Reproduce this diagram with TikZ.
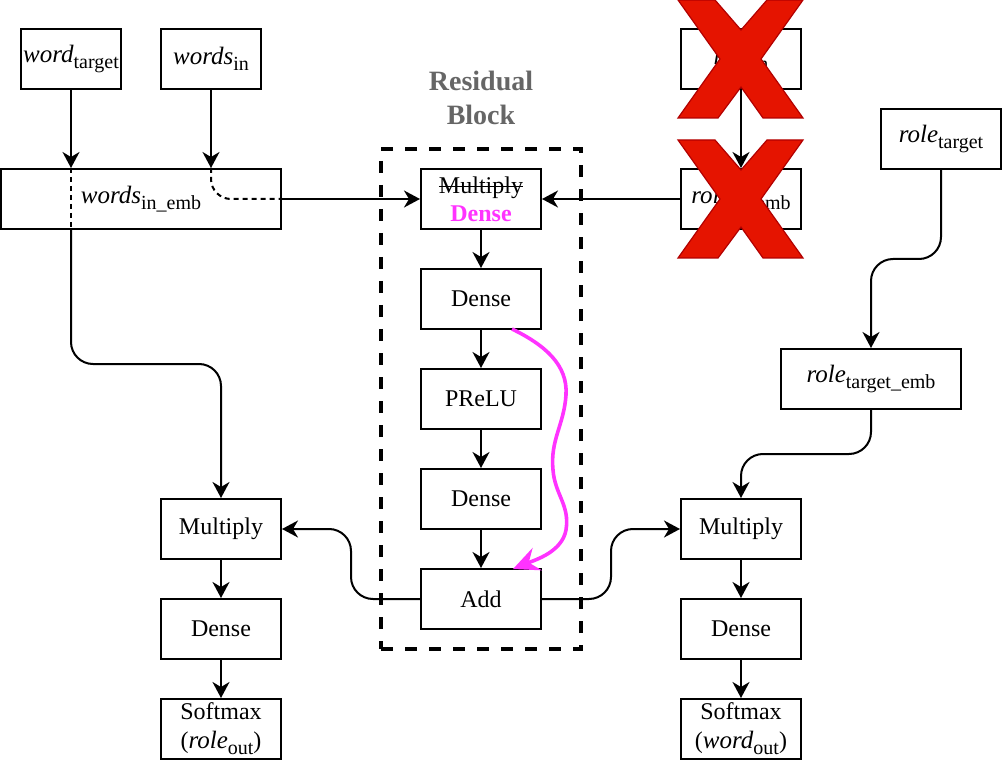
\documentclass[tikz,border=0pt]{standalone}
\usepackage{fontspec}
\setmainfont{Liberation Serif}
\usetikzlibrary{arrows.meta}
\newcommand{\lowtext}[1]{\raisebox{-6pt}{\fontsize{20}{20}\selectfont #1}}
\newcommand{\slanted}[1]{{\fontsize{25}{29}\selectfont\itshape #1}}
\newcommand{\crossout}[1]{\setbox0=\hbox{#1}\rlap{\rule[6pt]{\wd0}{1.6pt}}\box0}
\definecolor{crossred}{HTML}{E51400}
\definecolor{crossedge}{HTML}{B20000}
\definecolor{pinkline}{HTML}{FF33FF}
\definecolor{titlegray}{HTML}{666666}
\begin{document}
\begin{tikzpicture}[x=1pt, y=-1pt,
    box/.style={draw, fill=white, line width=2pt, minimum height=60pt, inner sep=0pt, align=center,
        font=\fontsize{24}{29}\selectfont},
    link/.style={line width=2pt, -{Stealth[length=16pt,width=17pt,inset=5pt]}},
    plainlink/.style={line width=2pt}]
    \useasboundingbox (0,0) rectangle (1002,762);

    % residual block frame
    \node[draw, line width=3.6pt, dash pattern=on 12pt off 12pt, minimum width=200pt, minimum height=500pt] (frame) at (481,399) {};
    \node[font=\fontsize{28}{34}\selectfont\bfseries, text=titlegray, align=center] (blocktitle) at (481,98) {Residual\\Block};

    % inputs
    \node[box, minimum width=100pt] (wordtarget) at (71,59) {\slanted{word}\lowtext{target}};
    \node[box, minimum width=100pt] (wordsin) at (211,59) {\slanted{words}\lowtext{in}};
    \node[box, minimum width=120pt] (rolein) at (741,59) {\slanted{role}\lowtext{in}};
    \node[box, minimum width=120pt] (roletarget) at (941,139) {\slanted{role}\lowtext{target}};

    % embeddings
    \node[box, minimum width=280pt] (wordsemb) at (141,199) {\slanted{words}\lowtext{in\_emb}};
    \node[box, minimum width=120pt] (roleemb) at (741,199) {\slanted{role}\lowtext{in\_emb}};
    \node[box, minimum width=180pt] (roletargetemb) at (871,379) {\slanted{role}\lowtext{target\_emb}};

    % residual block
    \node[box, minimum width=120pt] (blockmerge) at (481,199) {\crossout{Multiply}\\[-1pt]\textcolor{pinkline}{\textbf{Dense}}};
    \node[box, minimum width=120pt] (denseone) at (481,299) {Dense};
    \node[box, minimum width=120pt] (prelu) at (481,399) {PReLU};
    \node[box, minimum width=120pt] (densetwo) at (481,499) {Dense};
    \node[box, minimum width=120pt] (addnode) at (481,599) {Add};

    % left output
    \node[box, minimum width=120pt] (multleft) at (221,529) {Multiply};
    \node[box, minimum width=120pt] (denseleft) at (221,629) {Dense};
    \node[box, minimum width=120pt] (softleft) at (221,729) {Softmax\\(\slanted{role}\lowtext{out})};

    % right output
    \node[box, minimum width=120pt] (multright) at (741,529) {Multiply};
    \node[box, minimum width=120pt] (denseright) at (741,629) {Dense};
    \node[box, minimum width=120pt] (softright) at (741,729) {Softmax\\(\slanted{word}\lowtext{out})};

    % word path
    \coordinate (leftturn) at (221,364);
    \draw[link] (wordtarget.south) -- (wordtarget.south |- wordsemb.north);
    \draw[plainlink, dash pattern=on 5pt off 4pt] (wordtarget.south |- wordsemb.north) -- (wordtarget.south |- wordsemb.south);
    \draw[link, rounded corners=22pt] (wordtarget.south |- wordsemb.south) -- (wordtarget.south |- leftturn) -- (leftturn) -- (multleft.north);
    \draw[link] (wordsin.south) -- (wordsin.south |- wordsemb.north);
    \draw[plainlink, dash pattern=on 5pt off 4pt, rounded corners=20pt] (wordsin.south |- wordsemb.north) -- (wordsin.south |- wordsemb.east) -- (wordsemb.east);
    \draw[link] (wordsemb.east) -- (blockmerge.west);

    % role path
    \coordinate (roleturn) at (871,259);
    \coordinate (rightturn) at (741,454);
    \draw[link] (rolein.south) -- (roleemb.north);
    \draw[link] (roleemb.west) -- (blockmerge.east);
    \draw[link, rounded corners=22pt] (roletarget.south) -- (roletarget.south |- roleturn) -- (roleturn) -- (roletargetemb.north);
    \draw[link, rounded corners=22pt] (roletargetemb.south) -- (roletargetemb.south |- rightturn) -- (rightturn) -- (multright.north);

    % block chain
    \draw[link] (blockmerge) -- (denseone);
    \draw[link] (denseone) -- (prelu);
    \draw[link] (prelu) -- (densetwo);
    \draw[link] (densetwo) -- (addnode);

    % block to outputs
    \coordinate (addleft) at (351,599);
    \coordinate (addright) at (611,599);
    \draw[link, rounded corners=22pt] (addnode.west) -- (addleft) -- (addleft |- multleft.east) -- (multleft.east);
    \draw[link, rounded corners=22pt] (addnode.east) -- (addright) -- (addright |- multright.west) -- (multright.west);
    \draw[link] (multleft) -- (denseleft);
    \draw[link] (denseleft) -- (softleft);
    \draw[link] (multright) -- (denseright);
    \draw[link] (denseright) -- (softright);

    % skip connection
    \coordinate (skipstart) at (512,329);
    \coordinate (skipend) at (513,569);
    \draw[line width=3.6pt, pinkline, -{Stealth[length=26pt,width=24pt,inset=9pt]}] (skipstart)
        .. controls (545,345) and (568,365) .. (566,395)
        .. controls (564,425) and (550,440) .. (553,470)
        .. controls (555,495) and (570,505) .. (566,530)
        .. controls (562,552) and (535,560) .. (skipend);

    % crosses
    \foreach \crossy in {0,140} {
        \fill[crossred, draw=crossedge, line width=1.2pt, shift={(0,\crossy)}]
            (678,0) -- (715,0) -- (741,30) -- (767,0) -- (803,0) -- (761,59) -- (803,118)
            -- (763,118) -- (741,87) -- (718,118) -- (678,118) -- (720,59) -- cycle;
    }
\end{tikzpicture}
\end{document}
